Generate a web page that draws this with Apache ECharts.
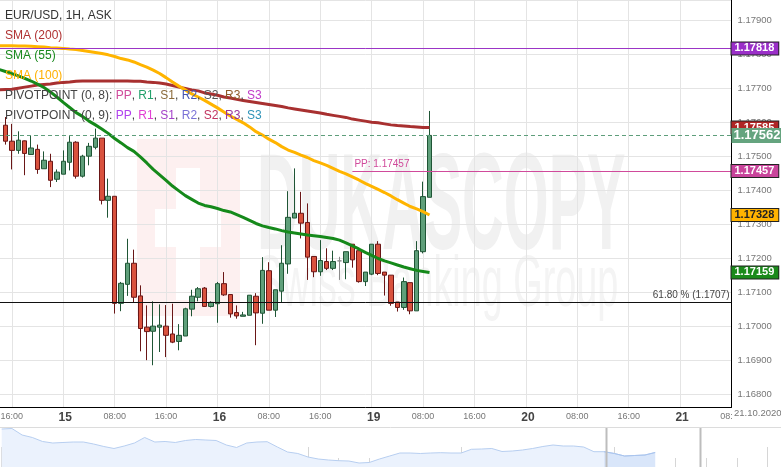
<!DOCTYPE html>
<html>
<head>
<meta charset="utf-8">
<title>EUR/USD, 1H, ASK</title>
<script src="https://cdn.jsdelivr.net/npm/echarts@6/dist/echarts.min.js"></script>
<style>
  html, body { margin: 0; padding: 0; background: #fff; }
  #main { width: 781px; height: 467px; }
</style>
</head>
<body>
<div id="main"></div>
<script>
// hourly slots on the main axis, tick labels every 8 hours from slot 2
var tickLabels = ['16:00', '15', '08:00', '16:00', '16', '08:00', '16:00', '19', '08:00', '16:00', '20', '08:00', '16:00', '21', '08:00'];
var dayTicks = ['15', '16', '19', '20', '21'];
var firstTick = 2, tickStep = 8, slotCount = 115;

// [open, close, low, high] one per hour, starting at slot 1
var candles = [
  [1.17592, 1.17545, 1.17535, 1.17616], [1.17545, 1.17518, 1.17462, 1.17596], [1.17518, 1.17548, 1.17508, 1.17574],
  [1.17546, 1.17509, 1.17445, 1.17547], [1.17506, 1.17525, 1.17505, 1.17562], [1.17521, 1.17462, 1.17449, 1.17535],
  [1.17464, 1.17489, 1.17464, 1.17515], [1.17486, 1.17430, 1.17410, 1.17508], [1.17433, 1.17454, 1.17425, 1.17462],
  [1.17448, 1.17486, 1.17448, 1.17518], [1.17483, 1.17542, 1.17459, 1.17560], [1.17542, 1.17442, 1.17435, 1.17545],
  [1.17442, 1.17501, 1.17438, 1.17505], [1.17501, 1.17530, 1.17474, 1.17540], [1.17527, 1.17554, 1.17521, 1.17582],
  [1.17554, 1.17371, 1.17359, 1.17554], [1.17371, 1.17383, 1.17320, 1.17435], [1.17383, 1.17068, 1.17038, 1.17383],
  [1.17068, 1.17127, 1.17045, 1.17131], [1.17124, 1.17186, 1.17090, 1.17258], [1.17186, 1.17086, 1.17070, 1.17226],
  [1.17090, 1.16994, 1.16927, 1.17121], [1.16998, 1.16985, 1.16901, 1.17062], [1.16986, 1.17001, 1.16886, 1.17074],
  [1.16998, 1.17004, 1.16925, 1.17065], [1.17001, 1.16974, 1.16910, 1.17063], [1.16978, 1.16954, 1.16951, 1.17067],
  [1.16956, 1.16974, 1.16930, 1.17007], [1.16972, 1.17052, 1.16972, 1.17055], [1.17051, 1.17089, 1.17030, 1.17108],
  [1.17086, 1.17111, 1.17074, 1.17116], [1.17113, 1.17059, 1.17059, 1.17116], [1.17059, 1.17071, 1.17056, 1.17074],
  [1.17067, 1.17126, 1.17011, 1.17131], [1.17126, 1.17093, 1.17090, 1.17160], [1.17094, 1.17037, 1.17026, 1.17094],
  [1.17041, 1.17031, 1.17023, 1.17062], [1.17030, 1.17034, 1.17030, 1.17043], [1.17033, 1.17092, 1.17033, 1.17092],
  [1.17089, 1.17040, 1.16945, 1.17098], [1.17039, 1.17165, 1.17008, 1.17204], [1.17164, 1.17048, 1.17048, 1.17189],
  [1.17048, 1.17108, 1.17028, 1.17108], [1.17104, 1.17186, 1.17072, 1.17239], [1.17184, 1.17321, 1.17155, 1.17398],
  [1.17319, 1.17333, 1.17319, 1.17465], [1.17333, 1.17304, 1.17259, 1.17396], [1.17306, 1.17204, 1.17137, 1.17362],
  [1.17206, 1.17161, 1.17145, 1.17206], [1.17161, 1.17194, 1.17149, 1.17254], [1.17191, 1.17171, 1.17166, 1.17230],
  [1.17171, 1.17191, 1.17166, 1.17223], [1.17193, 1.17193, 1.17137, 1.17205], [1.17188, 1.17220, 1.17139, 1.17220],
  [1.17242, 1.17196, 1.17173, 1.17242], [1.17223, 1.17132, 1.17129, 1.17223], [1.17132, 1.17160, 1.17119, 1.17160],
  [1.17154, 1.17242, 1.17151, 1.17242], [1.17242, 1.17156, 1.17151, 1.17251], [1.17160, 1.17151, 1.17091, 1.17160],
  [1.17151, 1.17068, 1.17061, 1.17151], [1.17072, 1.17056, 1.17044, 1.17072], [1.17056, 1.17132, 1.17049, 1.17144],
  [1.17129, 1.17046, 1.17036, 1.17129], [1.17046, 1.17223, 1.17046, 1.17251], [1.17220, 1.17382, 1.17215, 1.17426],
  [1.17380, 1.17562, 1.17380, 1.17634]
];

// moving averages, slot 0 .. 67
var sma200 = [
  1.17696, 1.17697, 1.17698, 1.17701, 1.17704, 1.17707, 1.17710, 1.17712, 1.17713, 1.17716,
  1.17718, 1.17719, 1.17721, 1.17722, 1.17722, 1.17722, 1.17722, 1.17722, 1.17722, 1.17722,
  1.17722, 1.17721, 1.17721, 1.17719, 1.17718, 1.17716, 1.17713, 1.17709, 1.17704, 1.17700,
  1.17696, 1.17693, 1.17687, 1.17684, 1.17680, 1.17675, 1.17672, 1.17668, 1.17665, 1.17662,
  1.17659, 1.17656, 1.17653, 1.17650, 1.17647, 1.17643, 1.17640, 1.17637, 1.17634, 1.17631,
  1.17628, 1.17624, 1.17621, 1.17618, 1.17615, 1.17610, 1.17607, 1.17604, 1.17601, 1.17599,
  1.17596, 1.17593, 1.17591, 1.17590, 1.17588, 1.17587, 1.17585, 1.17585
];
var sma100 = [
  1.17826, 1.17826, 1.17826, 1.17825, 1.17825, 1.17824, 1.17823, 1.17822, 1.17820, 1.17819,
  1.17818, 1.17816, 1.17815, 1.17812, 1.17809, 1.17806, 1.17803, 1.17799, 1.17794, 1.17788,
  1.17784, 1.17778, 1.17770, 1.17763, 1.17754, 1.17744, 1.17732, 1.17719, 1.17707, 1.17696,
  1.17684, 1.17675, 1.17665, 1.17654, 1.17643, 1.17631, 1.17619, 1.17609, 1.17599, 1.17587,
  1.17573, 1.17563, 1.17551, 1.17541, 1.17529, 1.17519, 1.17512, 1.17504, 1.17497, 1.17488,
  1.17481, 1.17474, 1.17465, 1.17456, 1.17449, 1.17440, 1.17431, 1.17421, 1.17412, 1.17403,
  1.17394, 1.17384, 1.17373, 1.17363, 1.17353, 1.17346, 1.17338, 1.17328
];
var sma55 = [
  1.17756, 1.17750, 1.17744, 1.17737, 1.17730, 1.17722, 1.17713, 1.17703, 1.17690, 1.17675,
  1.17659, 1.17644, 1.17629, 1.17618, 1.17604, 1.17593, 1.17581, 1.17568, 1.17553, 1.17540,
  1.17526, 1.17515, 1.17499, 1.17481, 1.17462, 1.17446, 1.17430, 1.17413, 1.17399, 1.17385,
  1.17374, 1.17363, 1.17356, 1.17352, 1.17347, 1.17341, 1.17337, 1.17329, 1.17321, 1.17312,
  1.17303, 1.17296, 1.17291, 1.17287, 1.17282, 1.17278, 1.17275, 1.17272, 1.17269, 1.17267,
  1.17265, 1.17262, 1.17259, 1.17254, 1.17246, 1.17237, 1.17228, 1.17218, 1.17209, 1.17200,
  1.17193, 1.17187, 1.17181, 1.17175, 1.17170, 1.17165, 1.17162, 1.17159
];

var levelTop = 1.17818;     // upper horizontal level
var pivotPP = 1.17457;      // pivot point
var pivotFrom = 55;         // slot where the PP line starts
var fib618 = 1.1707;        // 61.80 % retracement
var yMin = 1.167632, yMax = 1.179603;

// navigator (longer history), one value per navigator slot
var navValues = [
  1.18850, 1.18888, 1.18400, 1.18213, 1.17913, 1.17800, 1.17838, 1.17875, 1.17875, 1.17725,
  1.17538, 1.17388, 1.17575, 1.17800, 1.18213, 1.17875, 1.17913, 1.17838, 1.17988, 1.18063,
  1.18025, 1.17988, 1.17650, 1.17463, 1.17800, 1.17875, 1.17898, 1.17500, 1.17125, 1.17013,
  1.16750, 1.16600, 1.16525, 1.16473, 1.16450, 1.16300, 1.16338, 1.16600, 1.16825, 1.17050,
  1.17050, 1.17013, 1.17050, 1.17073, 1.17050, 1.17050, 1.17328, 1.17350, 1.17388, 1.17163,
  1.17200, 1.17275, 1.17388, 1.17538, 1.17650, 1.17575, 1.17575, 1.17500, 1.17148, 1.17148,
  1.17013, 1.16825, 1.16863, 1.16900, 1.17088
];
var navSlotCount = 78, navSelectFrom = 59;

var font = '"Liberation Sans", Arial, sans-serif';

var slots = [];
for (var i = 0; i < slotCount; i++) slots.push(String(i));
var navSlots = [];
for (var j = 0; j < navSlotCount; j++) navSlots.push('n' + j);

function isTick(idx) { return idx >= firstTick && (idx - firstTick) % tickStep === 0; }

var candleData = ['-'].concat(candles);
var lastClose = candles[candles.length - 1][1];
var navSelected = navValues.map(function (v, k) { return k >= navSelectFrom ? v : null; });

function boxLabel(text, bg, fg, size, border) {
  return {
    show: true, position: 'end', distance: 0,
    formatter: text,
    backgroundColor: bg, color: fg, fontSize: size, lineHeight: size + 1,
    fontWeight: 'bold', fontFamily: font,
    padding: [0, 4, 0, 3],
    borderColor: border ? '#222' : bg, borderWidth: 1
  };
}
var hidden = { color: 'rgba(0,0,0,0)', width: 0 };

var myChart = echarts.init(document.getElementById('main'), null, { renderer: 'canvas' });

myChart.setOption({
  animation: false,
  backgroundColor: '#ffffff',
  textStyle: { fontFamily: font },
  grid: [
    { left: -1, right: 49.5, top: 0, bottom: 60, outerBoundsMode: 'none', containLabel: false },
    { left: 1.7, right: -6.9, top: 427, bottom: 0, outerBoundsMode: 'none', containLabel: false }
  ],
  xAxis: [
    {
      type: 'category', gridIndex: 0, data: slots, boundaryGap: false,
      axisLine: { lineStyle: { color: '#000', width: 1 } },
      axisTick: { show: false },
      axisLabel: {
        interval: function (idx) { return isTick(idx); },
        formatter: function (v, idx) {
          var t = tickLabels[(idx - firstTick) / tickStep];
          return dayTicks.indexOf(t) >= 0 ? '{d|' + t + '}' : t;
        },
        color: '#777', fontSize: 9, margin: 5,
        rich: { d: { fontSize: 12, fontWeight: 'bold', color: '#444', padding: [0, 0, 0, 4] } }
      },
      splitLine: {
        show: true,
        interval: function (idx) { return isTick(idx); },
        lineStyle: { color: '#e4e4e4', width: 1 }
      }
    },
    {
      type: 'category', gridIndex: 1, data: navSlots, boundaryGap: false, position: 'bottom',
      axisLine: { show: false }, axisLabel: { show: false },
      axisTick: { show: true, inside: true, length: 9, interval: 2, lineStyle: { color: '#d6d6d6' } }
    },
    {
      type: 'category', gridIndex: 1, data: navSlots, boundaryGap: false, position: 'bottom',
      axisLine: { show: false }, axisLabel: { show: false },
      axisTick: { show: true, inside: true, length: 20, interval: 14, lineStyle: { color: '#d6d6d6' } }
    }
  ],
  yAxis: [
    {
      type: 'value', gridIndex: 0, position: 'right', min: yMin, max: yMax, scale: true,
      splitNumber: 12,
      axisLine: { show: true, lineStyle: { color: '#000', width: 1 } },
      axisTick: { show: false },
      axisLabel: {
        color: '#777', fontSize: 9.5, margin: 6,
        showMinLabel: false, showMaxLabel: false,
        formatter: function (v) { return v.toFixed(5); }
      },
      splitLine: { show: true, lineStyle: { color: '#e4e4e4', width: 1 } }
    },
    {
      type: 'value', gridIndex: 1, min: 1.160, max: 1.190,
      axisLine: { show: false }, axisTick: { show: false },
      axisLabel: { show: false }, splitLine: { show: false }
    }
  ],
  series: [
    {
      name: 'EUR/USD', type: 'candlestick', xAxisIndex: 0, yAxisIndex: 0,
      data: candleData, barWidth: 5,
      itemStyle: {
        color: '#5f9f7a', color0: '#d9523e',
        borderColor: '#1f5535', borderColor0: '#6a1616',
        borderColorDoji: '#8a8a8a', borderWidth: 1
      }
    },
    {
      name: 'SMA (200)', type: 'line', xAxisIndex: 0, yAxisIndex: 0, data: sma200,
      showSymbol: false, symbol: 'none', lineStyle: { color: '#a83030', width: 3 },
      markLine: {
        silent: true, symbol: ['none', 'none'], animation: false, precision: 5,
        data: [
          { yAxis: levelTop, lineStyle: { color: '#9b35c6', width: 1, type: 'solid' },
            label: boxLabel(levelTop.toFixed(5), '#9a2fc8', '#fff', 11, true) },
          { yAxis: sma200[sma200.length - 1], lineStyle: hidden,
            label: boxLabel(sma200[sma200.length - 1].toFixed(5), '#b02525', '#fff', 11, true) },
          { yAxis: pivotPP, lineStyle: hidden,
            label: boxLabel(pivotPP.toFixed(5), '#c9449b', '#fff', 11, true) },
          { yAxis: sma100[sma100.length - 1], lineStyle: hidden,
            label: boxLabel(sma100[sma100.length - 1].toFixed(5), '#ffb300', '#222', 11, true) },
          { yAxis: sma55[sma55.length - 1], lineStyle: hidden,
            label: boxLabel(sma55[sma55.length - 1].toFixed(5), '#1b8a1b', '#fff', 11, true) },
          { yAxis: fib618, lineStyle: { color: '#111', width: 1, type: 'solid' },
            label: { show: true, position: 'insideEndTop', distance: 2, formatter: '61.80 % (1.1707)',
                     color: '#444', fontSize: 10, fontFamily: font } },
          [
            { coord: [pivotFrom, pivotPP], lineStyle: { color: '#d04a9b', width: 1, type: 'solid' },
              label: { show: true, position: 'insideStartTop', distance: 2, formatter: 'PP: ' + pivotPP.toFixed(5),
                       color: '#d04a9b', fontSize: 10, fontFamily: font } },
            { coord: [slotCount - 1, pivotPP] }
          ],
          { yAxis: lastClose, lineStyle: { color: '#5e9e7b', width: 1, type: [4, 3] },
            label: {
              show: true, position: 'end', distance: 0,
              formatter: lastClose.toFixed(5),
              backgroundColor: '#65a47f', color: '#fff', fontSize: 13, lineHeight: 14,
              fontWeight: 'bold', fontFamily: font, padding: [1, 2, 0, 2]
            } }
        ]
      }
    },
    {
      name: 'SMA (100)', type: 'line', xAxisIndex: 0, yAxisIndex: 0, data: sma100,
      showSymbol: false, symbol: 'none', lineStyle: { color: '#ffb400', width: 3 }
    },
    {
      name: 'SMA (55)', type: 'line', xAxisIndex: 0, yAxisIndex: 0, data: sma55,
      showSymbol: false, symbol: 'none', lineStyle: { color: '#15891a', width: 3 }
    },
    {
      name: 'navigator', type: 'line', xAxisIndex: 1, yAxisIndex: 1, data: navValues,
      symbol: 'none', lineStyle: { color: '#b7cef0', width: 1 },
      areaStyle: { color: '#ebf2fd', origin: 'start', opacity: 1 }
    },
    {
      name: 'navigator window', type: 'line', xAxisIndex: 1, yAxisIndex: 1, data: navSelected,
      symbol: 'none', lineStyle: { color: '#a9c4ee', width: 1 },
      areaStyle: { color: '#d9e6fa', origin: 'start', opacity: 1 }
    }
  ],
  graphic: [
    // faint watermark
    { type: 'rect', z: -5, silent: true, shape: { x: 137, y: 139, width: 103, height: 177 }, style: { fill: '#fdf0f0' } },
    { type: 'rect', z: -4, silent: true, shape: { x: 176, y: 168, width: 24, height: 132 }, style: { fill: '#ffffff' } },
    { type: 'rect', z: -4, silent: true, shape: { x: 155, y: 209, width: 66, height: 38 }, style: { fill: '#ffffff' } },
    { type: 'text', z: -4, silent: true, x: 257, y: 142, scaleX: 0.418,
      style: { text: 'DUKASCOPY', fill: '#f1f1f1', fontSize: 138, fontWeight: 'bold', fontFamily: font, verticalAlign: 'top' } },
    { type: 'text', z: -4, silent: true, x: 257, y: 250, scaleX: 0.525,
      style: { text: 'Swiss Banking Group', fill: '#f4f4f4', fontSize: 72, fontFamily: font, verticalAlign: 'top' } },
    // legend texts
    { type: 'text', z: 100, x: 5, y: 15.5,
      style: { text: 'EUR/USD, 1H, ASK', fill: '#333', fontSize: 12, fontFamily: font, verticalAlign: 'middle' } },
    { type: 'text', z: 100, x: 5, y: 35.5,
      style: { text: 'SMA (200)', fill: '#b03232', fontSize: 12, fontFamily: font, verticalAlign: 'middle' } },
    { type: 'text', z: 100, x: 5, y: 55.5,
      style: { text: 'SMA (55)', fill: '#1a8a1e', fontSize: 12, fontFamily: font, verticalAlign: 'middle' } },
    { type: 'text', z: 100, x: 5, y: 75.5,
      style: { text: 'SMA (100)', fill: '#ffb000', fontSize: 12, fontFamily: font, verticalAlign: 'middle' } },
    { type: 'text', z: 100, x: 5, y: 95.5,
      style: {
        text: 'PIVOTPOINT (0, 8): {pp|PP}, {r1|R1}, {s1|S1}, {r2|R2}, {s2|S2}, {r3|R3}, {s3|S3}',
        fill: '#444', fontSize: 12, fontFamily: font, verticalAlign: 'middle',
        rich: {
          pp: { fill: '#cf4a9b', fontSize: 12 }, r1: { fill: '#22a06b', fontSize: 12 },
          s1: { fill: '#8a6a3a', fontSize: 12 }, r2: { fill: '#4254b0', fontSize: 12 },
          s2: { fill: '#555555', fontSize: 12 }, r3: { fill: '#8f5a28', fontSize: 12 },
          s3: { fill: '#c03bc8', fontSize: 12 }
        }
      } },
    { type: 'text', z: 100, x: 5, y: 115.5,
      style: {
        text: 'PIVOTPOINT (0, 9): {pp|PP}, {r1|R1}, {s1|S1}, {r2|R2}, {s2|S2}, {r3|R3}, {s3|S3}',
        fill: '#444', fontSize: 12, fontFamily: font, verticalAlign: 'middle',
        rich: {
          pp: { fill: '#b041ee', fontSize: 12 }, r1: { fill: '#e23fd3', fontSize: 12 },
          s1: { fill: '#a33fc9', fontSize: 12 }, r2: { fill: '#7a72d6', fontSize: 12 },
          s2: { fill: '#c2335f', fontSize: 12 }, r3: { fill: '#98339a', fontSize: 12 },
          s3: { fill: '#2e93b8', fontSize: 12 }
        }
      } },
    // date stamp at the end of the time axis
    { type: 'text', z: 100, x: 732, y: 413.5,
      style: { text: '21.10.2020', fill: '#777', fontSize: 9.5, fontFamily: font, verticalAlign: 'middle',
               backgroundColor: '#fff', padding: [1, 2] } },
    // navigator frame and window handles
    { type: 'line', z: 50, shape: { x1: 0, y1: 427.5, x2: 781, y2: 427.5 }, style: { stroke: '#dcdcdc', lineWidth: 1 } },
    { type: 'rect', z: 50, shape: { x: 605.5, y: 428, width: 2, height: 39 }, style: { fill: '#bdbdbd' } },
    { type: 'rect', z: 50, shape: { x: 699.5, y: 428, width: 2, height: 39 }, style: { fill: '#bdbdbd' } }
  ]
});
</script>
</body>
</html>
